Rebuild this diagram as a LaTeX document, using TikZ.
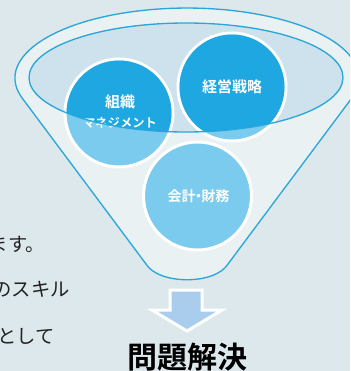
\documentclass[tikz,border=0pt]{standalone}
\usepackage{fontspec}
\newfontfamily\jpfont[BoldFont={Noto Sans CJK JP Bold}]{Noto Sans CJK JP}
\definecolor{bgcol}{RGB}{221,232,236}
\definecolor{funnelcol}{RGB}{233,241,243}
\definecolor{rimcol}{RGB}{205,226,237}
\definecolor{linecol}{RGB}{42,166,216}
\definecolor{darkball}{RGB}{30,167,225}
\definecolor{lightball}{RGB}{122,203,238}
\definecolor{arrowcol}{RGB}{170,205,238}
\definecolor{txtcol}{RGB}{34,34,34}
\begin{document}
\begin{tikzpicture}[x=0.75pt,y=0.75pt,yscale=-1,xscale=1,
  ball/.style={circle,fill=lightball,draw=white,line width=2.25pt,inner sep=0pt,minimum size=81pt},
  balltext/.style={text=white,inner sep=0.75pt,font=\jpfont\bfseries\fontsize{11.25}{12}\selectfont},
  sidetext/.style={anchor=east,inner sep=0pt,text=txtcol,font=\jpfont\fontsize{14.5}{15}\selectfont}]
\useasboundingbox (0,0) rectangle (350,371);
\clip (0,0) rectangle (350,371);
\fill [bgcol] (0,0) rectangle (350,371);

%Shape: Funnel
\draw [color=linecol ,line width=1pt ,fill=funnelcol]  (22.4,98.4) arc [start angle=163.1, end angle=376.9, x radius=172, y radius=70] -- (228,264) .. controls (215,285) and (159,285) .. (146,264) -- cycle ;
%Shape: Ellipse
\fill [rimcol]  (186,77.5) ellipse [x radius=157, y radius=54.5] ;

%Shape: Circle
\node [ball] (org) at (119,113) {};
\node [ball] (strategy) at (232,87) {};
\node [ball] (finance) at (197.5,196) {};
%dark part inside the rim
\begin{scope}
\clip (186,77.5) ellipse [x radius=157, y radius=54.5] ;
\fill [darkball] (org.center) circle [radius=52.5] ;
\fill [darkball] (strategy.center) circle [radius=52.5] ;
\fill [darkball] (finance.center) circle [radius=52.5] ;
\end{scope}

% Text Node
\node [balltext] (orgtop) at (120,102) {組織};
% Text Node
\node [balltext ,font=\jpfont\bfseries\fontsize{9.2}{10}\selectfont] (orgbottom) at (120,122.5) {マネジメント};
% Text Node
\node [balltext] (strategytext) at (232,87) {経営戦略};
% Text Node
\node [balltext ,font=\jpfont\bfseries\fontsize{10.5}{11}\selectfont] (financetext) at (198.5,196) {会計\kern-0.3em・\kern-0.3em財務};

%Shape: Ellipse
\draw [color=linecol ,line width=1pt]  (186,77.5) ellipse [x radius=157, y radius=54.5] ;

%Shape: Down Arrow
\draw [draw=white ,fill=arrowcol ,line width=2.25pt ,line join=miter]  (170,290) -- (202,290) -- (202,310) -- (222,310) -- (187,331) -- (152,310) -- (170,310) -- cycle ;

% Text Node
\node [inner sep=0pt ,text=black ,font=\jpfont\bfseries\fontsize{22.5}{24}\selectfont] (result) at (187.5,357.5) {問題解決};
% Text Node
\node [sidetext] (lineA) at (45,244) {ます。};
% Text Node
\node [sidetext] (lineB) at (70,289) {のスキル};
% Text Node
\node [sidetext] (lineC) at (55,336) {として};
\end{tikzpicture}
\end{document}
